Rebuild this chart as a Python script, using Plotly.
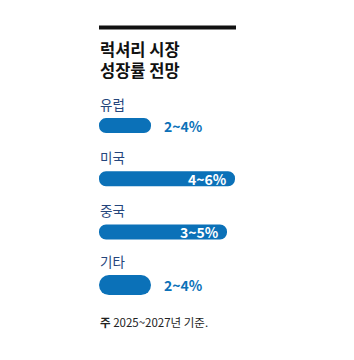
import plotly.graph_objects as go

# ---- data ----
categories = ["유럽", "미국", "중국", "기타"]
value_labels = ["2~4%", "4~6%", "3~5%", "2~4%"]
bar_length = [52, 136, 128, 52]          # bar length as drawn (arbitrary units)
label_inside = [False, True, True, False]
bar_thickness_px = [15, 15, 15, 20]
title_lines = ["럭셔리 시장", "성장률 전망"]
footnote_head = "주"
footnote_body = "2025~2027년 기준."

W, H = 354, 360
FONT = "Noto Sans CJK KR"
BLUE = "#0b71b8"
NAVY = "#25467c"

# layout geometry (pixels)
x_left = 99
row_first, row_step = 125.6, 53.17
y_lo = -row_first / row_step
y_hi = (H - row_first) / row_step

fig = go.Figure()

widths = [t / row_step for t in bar_thickness_px]

fig.add_trace(go.Bar(
    y=categories,
    x=bar_length,
    base=[0] * len(categories),
    orientation="h",
    width=widths,
    marker=dict(color=BLUE, cornerradius="50%", line=dict(width=0)),
    hoverinfo="skip",
    showlegend=False,
))

annotations = []
for cat, lab, L, inside, t in zip(categories, value_labels, bar_length, label_inside, bar_thickness_px):
    annotations.append(dict(
        x=0, y=cat, xref="x", yref="y", text=cat, showarrow=False,
        xanchor="left", yanchor="middle", xshift=-1, yshift=t / 2 + 14,
        font=dict(family=FONT, size=13.5, color=NAVY),
    ))
    if inside:
        annotations.append(dict(
            x=L, y=cat, xref="x", yref="y", text=f"<b>{lab}</b>", showarrow=False,
            xanchor="right", yanchor="middle", xshift=-6,
            font=dict(family=FONT, size=14, color="white"),
        ))
    else:
        annotations.append(dict(
            x=L, y=cat, xref="x", yref="y", text=f"<b>{lab}</b>", showarrow=False,
            xanchor="left", yanchor="middle", xshift=11,
            font=dict(family=FONT, size=14, color=BLUE),
        ))

# title (two lines)
for i, line in enumerate(title_lines):
    annotations.append(dict(
        x=x_left / W, y=1 - (49.5 + 20.5 * i) / H, xref="paper", yref="paper",
        text=f"<b>{line}</b>", showarrow=False,
        xanchor="left", yanchor="middle", xshift=-1,
        font=dict(family=FONT, size=16.5, color="#111111"),
    ))
# footnote
annotations.append(dict(
    x=x_left / W, y=1 - 322 / H, xref="paper", yref="paper",
    text=f"<b>{footnote_head}</b> {footnote_body}", showarrow=False,
    xanchor="left", yanchor="middle", xshift=-1,
    font=dict(family=FONT, size=11.5, color="#222222"),
))

fig.update_layout(
    width=W, height=H,
    margin=dict(l=0, r=0, t=0, b=0),
    paper_bgcolor="white", plot_bgcolor="white",
    xaxis=dict(range=[-x_left, W - x_left], visible=False, fixedrange=True),
    yaxis=dict(range=[y_hi, y_lo], visible=False, type="category",
               categoryorder="array", categoryarray=categories, fixedrange=True),
    annotations=annotations,
    shapes=[dict(type="line", xref="paper", yref="paper",
                 x0=x_left / W, x1=236 / W, y0=1 - 27.5 / H, y1=1 - 27.5 / H,
                 line=dict(color="#111111", width=4))],
    showlegend=False,
)

fig.write_html("out.html", config={"displayModeBar": False})
